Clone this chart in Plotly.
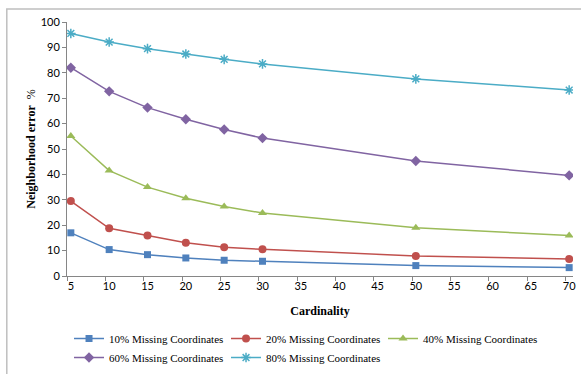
import plotly.graph_objects as go

cardinality = [5, 10, 15, 20, 25, 30, 50, 70]
miss10 = [17.0, 10.4, 8.4, 7.1, 6.2, 5.8, 4.1, 3.3]
miss20 = [29.5, 18.8, 15.9, 13.1, 11.3, 10.5, 7.9, 6.7]
miss40 = [55.1, 41.5, 35.0, 30.6, 27.4, 24.8, 19.0, 15.9]
miss60 = [82.0, 72.7, 66.3, 61.7, 57.7, 54.3, 45.3, 39.6]
miss80 = [95.5, 92.1, 89.5, 87.4, 85.3, 83.5, 77.6, 73.2]

series = [
    ("10% Missing Coordinates", miss10, "#4F81BD", "square", 7),
    ("20% Missing Coordinates", miss20, "#C0504D", "circle", 8),
    ("40% Missing Coordinates", miss40, "#9BBB59", "triangle-up", 8),
    ("60% Missing Coordinates", miss60, "#8064A2", "diamond", 8),
    ("80% Missing Coordinates", miss80, "#4BACC6", "asterisk-open", 8),
]

fig = go.Figure()
for name, vals, col, sym, sz in series:
    fig.add_trace(go.Scatter(
        x=cardinality, y=vals, name=name, mode="lines+markers",
        line=dict(color=col, width=1.5),
        marker=dict(symbol=sym, size=sz, color=col,
                    line=dict(color=col, width=1.5 if "asterisk" in sym else 0)),
    ))

axis_col = "#868686"
fig.update_layout(
    width=581, height=374,
    margin=dict(l=67, r=8, t=22, b=98, autoexpand=False),
    paper_bgcolor="white", plot_bgcolor="white",
    showlegend=True,
    legend=dict(
        orientation="h", x=0.004, xanchor="left", y=-0.189, yanchor="top",
        font=dict(family="Liberation Serif", size=11, color="black"),
        itemwidth=30, entrywidth=112, entrywidthmode="pixels",
        tracegroupgap=0,
    ),
    xaxis=dict(
        range=[4.5, 70.5], tickmode="array", tickvals=list(range(5, 71, 5)),
        showgrid=False, zeroline=False, showline=True, linecolor=axis_col, linewidth=1,
        ticks="",
        minor=dict(ticks="outside", tick0=4.5, dtick=5, ticklen=4, tickcolor=axis_col, showgrid=False),
        tickfont=dict(family="Lato", size=11, color="black"),
        title=dict(text="<b>Cardinality</b>", font=dict(family="Liberation Serif", size=12, color="black"), standoff=15),
    ),
    yaxis=dict(
        range=[0, 100], tickvals=list(range(0, 101, 10)),
        showgrid=False, zeroline=False, showline=True, linecolor=axis_col, linewidth=1,
        ticks="outside", ticklen=4, tickcolor=axis_col,
        tickfont=dict(family="Lato", size=11, color="black"),
        title=dict(text="<b>Neighborhood error</b>  %", font=dict(family="Liberation Serif", size=12, color="black"), standoff=2),
    ),
    shapes=[dict(type="rect", xref="paper", yref="paper",
                 x0=-0.119, x1=1.05, y0=-0.45, y1=1.051,
                 line=dict(color="#BFBFBF", width=1.5), layer="below")],
)

fig.write_html("out.html")
